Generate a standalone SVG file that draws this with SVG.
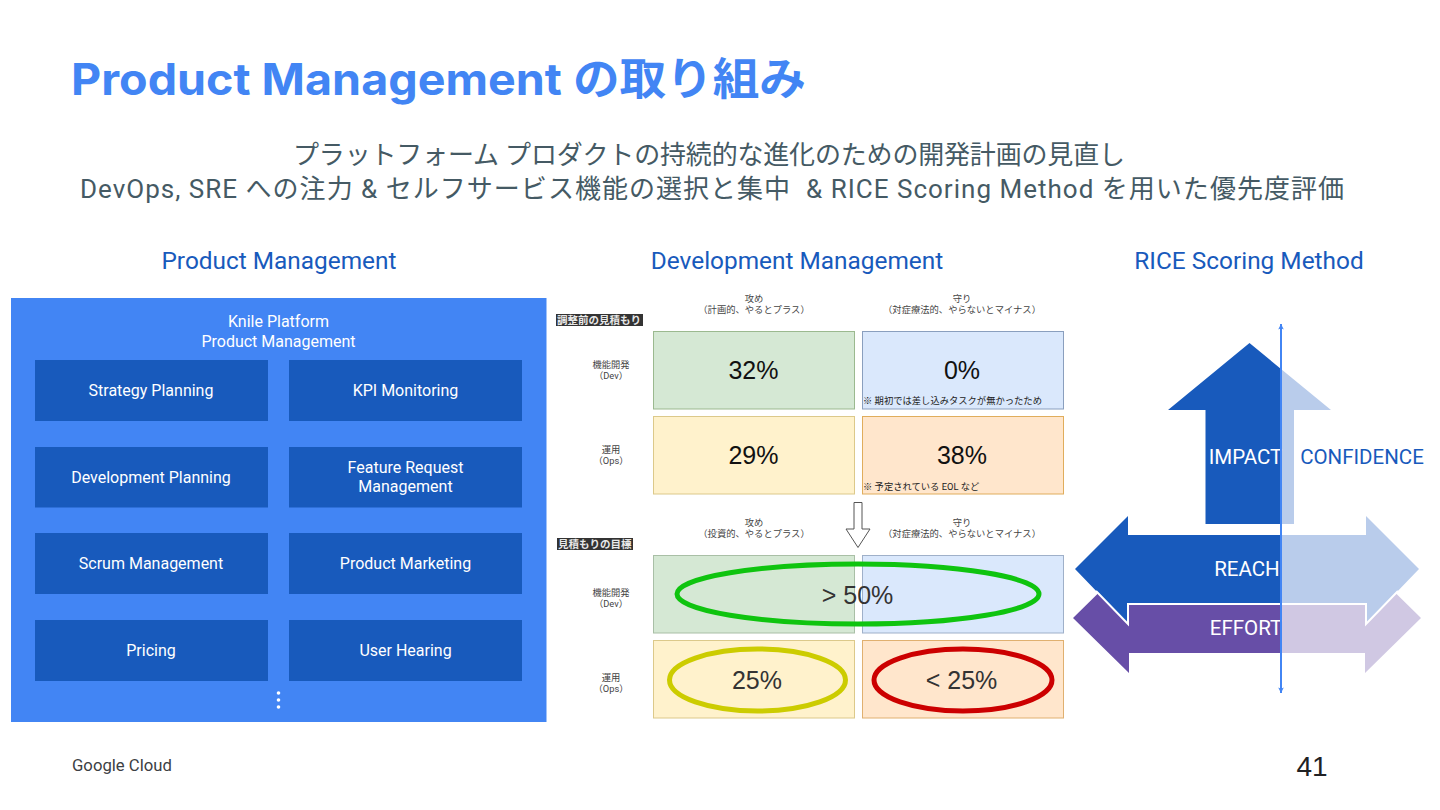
<svg xmlns="http://www.w3.org/2000/svg" width="1440" height="810" viewBox="0 0 1440 810">
<defs>
<marker id="ah" viewBox="0 0 10 10" refX="9" refY="5" markerWidth="7" markerHeight="7" orient="auto-start-reverse" markerUnits="userSpaceOnUse"><path d="M1 1L9 5L1 9L3 5Z" fill="#4285f4"/></marker>
</defs>
<style>
text{font-family:"Roboto","Noto Sans CJK JP",sans-serif}
.box{fill:#185abc}
.bt{fill:#fff;font-size:16px;text-anchor:middle}
.hd{fill:#185abc;font-size:24.400px;text-anchor:middle}
.sub{fill:#455a64;font-size:26px;text-anchor:middle}
.sm{fill:#444;font-size:9.300px;text-anchor:middle}
.note{fill:#222;font-size:9.300px}
.pct{fill:#111;font-size:25px;text-anchor:middle;font-family:"Liberation Sans","Noto Sans CJK JP",sans-serif}
.pct2{fill:#333;font-size:25px;text-anchor:middle;font-family:"Liberation Sans","Noto Sans CJK JP",sans-serif}
.lab{fill:#e8e8e8;font-size:10.500px;font-weight:700}
.ar{fill:#fff;font-size:20.500px;text-anchor:middle}
</style>
<rect width="1440" height="810" fill="#fff"/>
<text x="71" y="95" font-size="44" font-weight="700" fill="#4285f4" style="font-family:Inter,'Noto Sans CJK JP',sans-serif" textLength="735" lengthAdjust="spacingAndGlyphs">Product Management の取り組み</text>
<text class="sub" x="709" y="164" textLength="832" lengthAdjust="spacing">プラットフォーム プロダクトの持続的な進化のための開発計画の見直し</text>
<text class="sub" x="712" y="198" textLength="1264" lengthAdjust="spacing" xml:space="preserve">DevOps, SRE への注力 &amp; セルフサービス機能の選択と集中  &amp; RICE Scoring Method を用いた優先度評価</text>
<text class="hd" x="279" y="269">Product Management</text>
<text class="hd" x="797" y="269">Development Management</text>
<text class="hd" x="1249" y="269">RICE Scoring Method</text>

<g id="pm-panel">
<rect x="11" y="298" width="535.500" height="424" fill="#4285f4"/>
<text class="bt" x="278.500" y="327">Knile Platform</text>
<text class="bt" x="278.500" y="347">Product Management</text>
<circle cx="278.500" cy="693" r="1.800" fill="#fff"/><circle cx="278.500" cy="700" r="1.800" fill="#fff"/><circle cx="278.500" cy="707" r="1.800" fill="#fff"/>
</g>
<g id="n1"><rect class="box" x="35" y="360" width="233" height="61"/><text class="bt" x="151" y="396">Strategy Planning</text></g>
<g id="n2"><rect class="box" x="289" y="360" width="233" height="61"/><text class="bt" x="405.500" y="396">KPI Monitoring</text></g>
<g id="n3"><rect class="box" x="35" y="447" width="233" height="60.500"/><text class="bt" x="151" y="483">Development Planning</text></g>
<g id="n4"><rect class="box" x="289" y="447" width="233" height="60.500"/><text class="bt" x="405.500" y="473">Feature Request</text><text class="bt" x="405.500" y="492">Management</text></g>
<g id="n5"><rect class="box" x="35" y="533" width="233" height="61"/><text class="bt" x="151" y="569">Scrum Management</text></g>
<g id="n6"><rect class="box" x="289" y="533" width="233" height="61"/><text class="bt" x="405.500" y="569">Product Marketing</text></g>
<g id="n7"><rect class="box" x="35" y="620" width="233" height="61"/><text class="bt" x="151" y="656">Pricing</text></g>
<g id="n8"><rect class="box" x="289" y="620" width="233" height="61"/><text class="bt" x="405.500" y="656">User Hearing</text></g>

<g id="dev-before">
<text class="sm" x="754" y="302">攻め</text><text class="sm" x="754" y="313">（計画的、やるとプラス）</text>
<text class="sm" x="962" y="302">守り</text><text class="sm" x="962" y="313">（対症療法的、やらないとマイナス）</text>
<rect x="556" y="314" width="87" height="12" fill="#333"/><text class="lab" x="557" y="324">調整前の見積もり</text>
<text class="sm" x="611" y="368">機能開発</text><text class="sm" x="611" y="379">（Dev）</text>
<text class="sm" x="611" y="453">運用</text><text class="sm" x="611" y="464">（Ops）</text>
<rect x="653.500" y="331.500" width="201" height="77.500" fill="#d5e8d4" stroke="#9bb98f"/>
<rect x="862.500" y="331.500" width="201" height="77.500" fill="#dae8fc" stroke="#8a9fbe"/>
<rect x="653.500" y="416.500" width="201" height="77.500" fill="#fff2cc" stroke="#dcc98a"/>
<rect x="862.500" y="416.500" width="201" height="77.500" fill="#ffe6cc" stroke="#e0ad5c"/>
<text class="pct" x="753.500" y="379">32%</text><text class="pct" x="962" y="379">0%</text>
<text class="pct" x="753.500" y="464">29%</text><text class="pct" x="962" y="464">38%</text>
<text class="note" x="863" y="404">※ 期初では差し込みタスクが無かったため</text>
<text class="note" x="863" y="490">※ 予定されている EOL など</text>
</g>
<g id="dev-arrow"><path d="M854 502.500H862V529H870L858 547.500L846 529H854Z" fill="#fff" stroke="#555" stroke-width="1"/></g>
<g id="dev-after">
<text class="sm" x="754" y="526">攻め</text><text class="sm" x="754" y="537">（投資的、やるとプラス）</text>
<text class="sm" x="962" y="526">守り</text><text class="sm" x="962" y="537">（対症療法的、やらないとマイナス）</text>
<rect x="557" y="538" width="76" height="12" fill="#333"/><text class="lab" x="558" y="548">見積もりの目標</text>
<text class="sm" x="611" y="596">機能開発</text><text class="sm" x="611" y="607">（Dev）</text>
<text class="sm" x="611" y="681">運用</text><text class="sm" x="611" y="692">（Ops）</text>
<rect x="653.500" y="555.500" width="201" height="77.500" fill="#d5e8d4" stroke="#a9bfa6"/>
<rect x="862.500" y="555.500" width="201" height="77.500" fill="#dae8fc" stroke="#9fb0c9"/>
<rect x="653.500" y="640.500" width="201" height="77.500" fill="#fff2cc" stroke="#dcc98a"/>
<rect x="862.500" y="640.500" width="201" height="77.500" fill="#ffe6cc" stroke="#e0b070"/>
<text class="pct2" x="857.500" y="604">&gt; 50%</text><text class="pct2" x="757" y="689">25%</text><text class="pct2" x="961.500" y="689">&lt; 25%</text>
<ellipse cx="858" cy="594" rx="181" ry="30" fill="none" stroke="#0fc40f" stroke-width="5"/>
<ellipse cx="757.500" cy="680" rx="88" ry="31" fill="none" stroke="#cccc00" stroke-width="5"/>
<ellipse cx="963" cy="680" rx="89" ry="31" fill="none" stroke="#cc0000" stroke-width="5"/>
</g>

<g id="effort">
<path d="M1073 618L1129 563V604H1281V653H1129V673Z" fill="#674ea7"/>
<path d="M1281 604H1365V563L1421 618L1365 673V653H1281Z" fill="#d0c8e3"/>
<text class="ar" x="1246" y="635">EFFORT</text>
</g>
<g id="reach">
<path d="M1075 569L1128 516V535H1281V604H1128V624Z" fill="#185abc"/>
<path d="M1281 535H1366V516L1419 569L1366 624V604H1281Z" fill="#b9cceb"/>
<path d="M1096 591L1128 624V604H1366V624L1398 591" fill="none" stroke="#fff" stroke-width="2"/>
<text class="ar" x="1247" y="576">REACH</text>
</g>
<g id="impact">
<path d="M1249.500 343L1281 369V524H1205.500V410H1168Z" fill="#185abc"/>
<path d="M1281 369L1331 410H1294V524H1281Z" fill="#b9cceb"/>
<text class="ar" x="1245.500" y="464">IMPACT</text>
</g>
<text id="confidence" x="1362" y="464" font-size="20.500" fill="#185abc" text-anchor="middle">CONFIDENCE</text>
<g id="connectors"><line x1="1281" y1="324" x2="1281" y2="693" stroke="#4285f4" stroke-width="2" marker-start="url(#ah)" marker-end="url(#ah)"/></g>

<text x="72" y="771" font-size="16.700" fill="#3c4043">Google Cloud</text>
<text x="1312" y="776" font-size="28" fill="#202124" text-anchor="middle" style="font-family:'Liberation Sans',sans-serif">41</text>
</svg>
